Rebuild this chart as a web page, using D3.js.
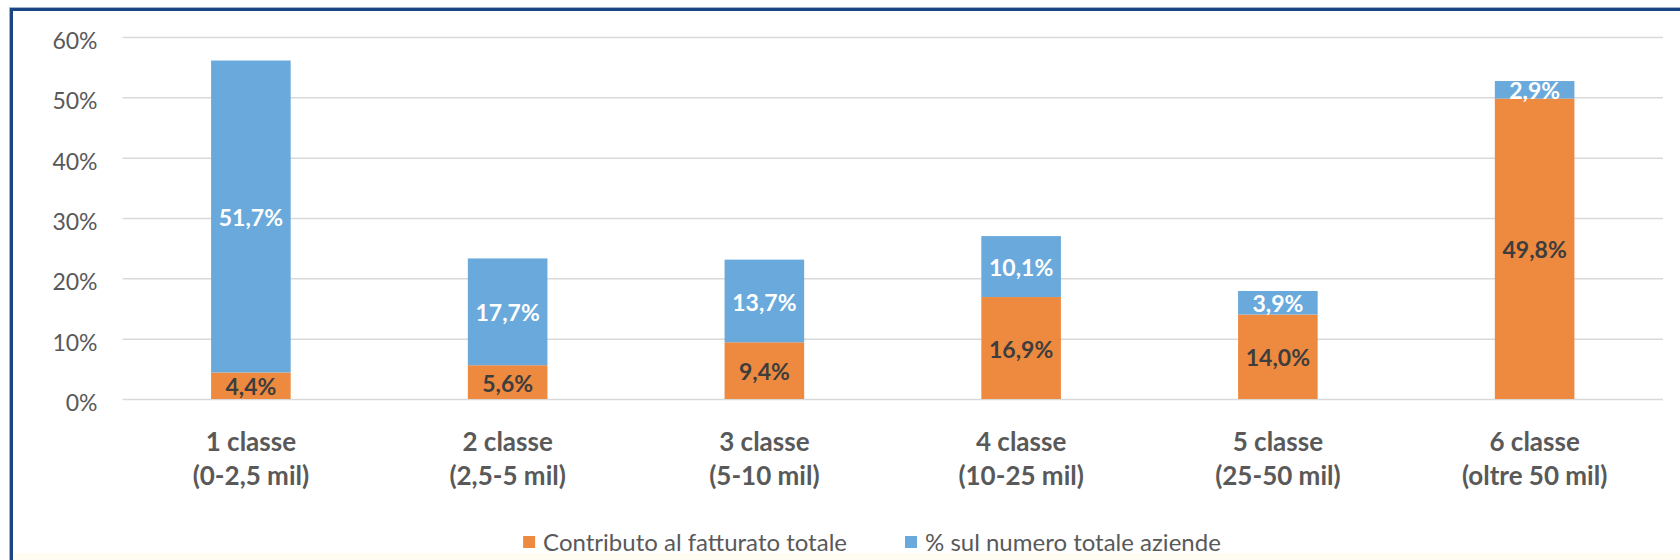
<!DOCTYPE html>
<html>
<head>
<meta charset="utf-8">
<script src="https://cdn.jsdelivr.net/npm/d3@7"></script>
<style>
  html, body { margin: 0; padding: 0; background: #ffffff; }
  svg { display: block; }
  text { font-family: Lato, "Open Sans", sans-serif; }
</style>
</head>
<body>
<svg id="chart" width="1680" height="560"></svg>
<script>
// ---- data ----
const categories = ["1 classe", "2 classe", "3 classe", "4 classe", "5 classe", "6 classe"];
const categoryRanges = ["(0-2,5 mil)", "(2,5-5 mil)", "(5-10 mil)", "(10-25 mil)", "(25-50 mil)", "(oltre 50 mil)"];
const contributoFatturato = [4.4, 5.6, 9.4, 16.9, 14.0, 49.8];
const percNumeroAziende = [51.7, 17.7, 13.7, 10.1, 3.9, 2.9];
const seriesNames = ["Contributo al fatturato totale", "% sul numero totale aziende"];
const yTicks = [0, 10, 20, 30, 40, 50, 60];

// ---- styles ----
const colOrange = "#EE8A40";
const colBlue = "#6AA9DB";
const textGray = "#595959";
const gridGray = "#D9D9D9";

const svg = d3.select("#chart");
const W = 1680, H = 560;

// frame
svg.append("rect").attr("x", 0).attr("y", 0).attr("width", W).attr("height", H).attr("fill", "#ffffff");
svg.append("rect").attr("x", 12).attr("y", 553).attr("width", W - 12).attr("height", 7).attr("fill", "#FFFDF2");
svg.append("path")
  .attr("d", `M11.5,${H} L11.5,9.5 L${W},9.5`)
  .attr("fill", "none").attr("stroke", "#1C4683").attr("stroke-width", 3);
svg.append("path")
  .attr("d", `M9.5,${H} L9.5,7.5 L${W},7.5`)
  .attr("fill", "none").attr("stroke", "#9FB3CF").attr("stroke-width", 1);

const plotLeft = 122.5, plotRight = 1663, plotTop = 37, plotBottom = 399;

const x = d3.scaleBand().domain(categories).range([plotLeft, plotRight]).paddingInner(0.69).paddingOuter(0.345);
const y = d3.scaleLinear().domain([0, 60]).range([plotBottom, plotTop]);

// gridlines + tick labels
const yAxis = d3.axisLeft(y).tickValues(yTicks).tickSize(-(plotRight - plotLeft)).tickFormat(d => d + "%");
const gAxis = svg.append("g").attr("transform", `translate(${plotLeft},0)`).call(yAxis);
gAxis.select(".domain").remove();
gAxis.selectAll(".tick line").attr("stroke", gridGray).attr("stroke-width", 1.5);
gAxis.selectAll(".tick text")
  .attr("x", -25).attr("dy", "0.5em")
  .attr("text-anchor", "end")
  .attr("fill", textGray).style("font-size", "23px").style("font-family", "Lato, sans-serif");

// stacked data
const rows = categories.map((c, i) => ({ cat: c, a: contributoFatturato[i], b: percNumeroAziende[i] }));
const stack = d3.stack().keys(["a", "b"])(rows);
const colors = { a: colOrange, b: colBlue };
const labelColors = { a: "#3D3D3D", b: "#ffffff" };

const layers = svg.append("g").selectAll("g").data(stack).join("g").attr("fill", d => colors[d.key]);
layers.selectAll("rect").data(d => d).join("rect")
  .attr("x", d => x(d.data.cat))
  .attr("width", x.bandwidth())
  .attr("y", d => y(d[1]))
  .attr("height", d => y(d[0]) - y(d[1]));

// value labels
const fmt = v => v.toFixed(1).replace(".", ",") + "%";
stack.forEach(layer => {
  svg.append("g").selectAll("text").data(layer).join("text")
    .attr("x", d => x(d.data.cat) + x.bandwidth() / 2)
    .attr("y", d => (y(d[0]) + y(d[1])) / 2)
    .attr("dy", "0.42em")
    .attr("text-anchor", "middle")
    .attr("fill", labelColors[layer.key])
    .style("font-size", "23px").style("font-weight", "bold")
    .text(d => fmt(d.data[layer.key]));
});

// x category labels
const xl = svg.append("g").selectAll("text").data(categories).join("text")
  .attr("x", d => x(d) + x.bandwidth() / 2)
  .attr("y", 451)
  .attr("text-anchor", "middle")
  .attr("fill", textGray)
  .style("font-size", "26px").style("font-weight", "bold");
xl.append("tspan").attr("x", d => x(d) + x.bandwidth() / 2).text(d => d);
xl.append("tspan").attr("x", d => x(d) + x.bandwidth() / 2).attr("dy", 34).text((d, i) => categoryRanges[i]);

// legend
const leg = svg.append("g");
const legTexts = seriesNames.map(n => leg.append("text").attr("y", 551).attr("fill", textGray).style("font-size", "24px").text(n));
const w1 = legTexts[0].node().getComputedTextLength();
const sq = 12, gapSq = 8, gapItem = 58;
const blueSqX = 905;
const orangeSqX = blueSqX - gapItem - w1 - gapSq - sq;
const sqXs = [orangeSqX, blueSqX];
[colOrange, colBlue].forEach((c, i) => {
  leg.append("rect").attr("x", sqXs[i]).attr("y", 536).attr("width", sq).attr("height", sq).attr("fill", c);
  legTexts[i].attr("x", sqXs[i] + sq + gapSq);
});
</script>
</body>
</html>
